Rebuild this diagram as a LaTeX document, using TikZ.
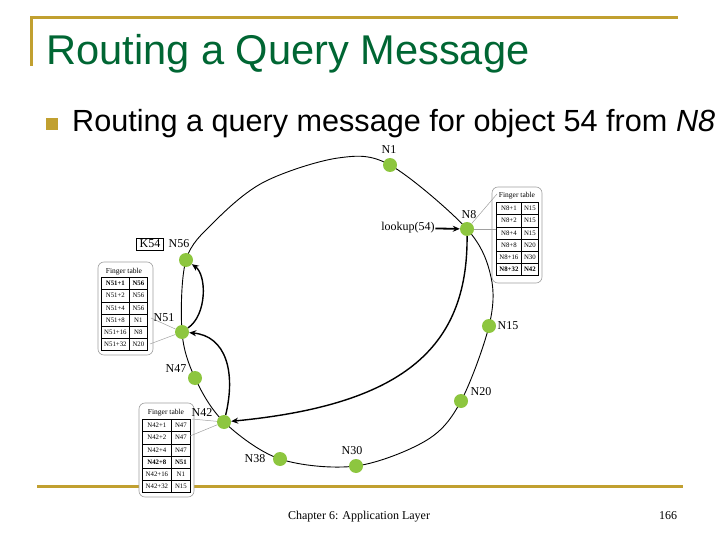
\documentclass[tikz,border=0pt]{standalone}
\usepackage{fontspec}
\setmainfont{Liberation Serif}
\newfontfamily\arialfont{Liberation Sans}
\usetikzlibrary{matrix,arrows.meta,backgrounds}
\definecolor{gold}{RGB}{193,160,48}
\definecolor{titlegreen}{RGB}{0,102,51}
\definecolor{nodegreen}{RGB}{141,198,63}
\definecolor{calloutgray}{RGB}{160,160,160}
\begin{document}
\begin{tikzpicture}[x=1pt,y=-1pt,
  peer/.style={circle,fill=nodegreen,minimum size=14pt,inner sep=0pt},
  lbl/.style={font=\fontsize{12}{12}\selectfont,inner sep=0.5pt},
  ring/.style={draw=black,line width=0.9pt},
  route/.style={draw=black,line width=1.4pt,-{Stealth[length=7pt,width=6pt]}},
  goldline/.style={draw=gold,line width=3pt},
  tabfont/.style={font=\fontsize{6.8}{6.8}\selectfont},
  ftab/.style 2 args={matrix of nodes,inner sep=0pt,
    nodes={draw=black,line width=0.4pt,tabfont,minimum height=12.2pt,inner sep=0pt,anchor=center},
    column sep=-0.4pt,row sep=-0.4pt,
    column 1/.style={nodes={minimum width=#1}},
    column 2/.style={nodes={minimum width=#2}}},
  bold/.style={font=\fontsize{6.8}{6.8}\selectfont\bfseries},
  hdr/.style={font=\fontsize{7.5}{7.5}\selectfont,inner sep=0pt},
  callout/.style={draw=calloutgray,fill=white,line width=0.6pt,rounded corners=6pt},
  pointer/.style={draw=calloutgray,line width=0.5pt}
]
\useasboundingbox (0,0) rectangle (720,540);
% frame lines
\draw[goldline] (30,18) -- (678,18);
\draw[goldline] (31,18) -- (31,66);
\draw[goldline] (37,486) -- (683,486);
% title
\node[anchor=base west,inner sep=0pt,font=\arialfont\fontsize{41.6}{41.6}\selectfont,text=titlegreen] (title) at (46,65) {Routing a Query Message};
\node[fill=gold,minimum size=12pt,inner sep=0pt] (bullet) at (52,124) {};
\node[anchor=base west,inner sep=0pt,font=\arialfont\fontsize{30.6}{30.6}\selectfont] (sub) at (72,132) {Routing a query message for object 54 from \textit{N8}};
% finger table of N8
\draw[callout] (492,187) rectangle (542,283);
\node[hdr] (h8) at (517,196) {Finger table};
\matrix (t8) [ftab={25pt}{17pt},anchor=north west] at (496,202) {
N8+1 & N15\\
N8+2 & N15\\
N8+4 & N15\\
N8+8 & N20\\
N8+16 & N30\\
|[bold]| N8+32 & |[bold]| N42\\
};
% finger table of N51
\draw[callout] (98,262) rectangle (153,355);
\node[hdr] (h51) at (124,272) {Finger table};
\matrix (t51) [ftab={28pt}{18pt},anchor=north west] at (101,277) {
|[bold]| N51+1 & |[bold]| N56\\
N51+2 & N56\\
N51+4 & N56\\
N51+8 & N1\\
N51+16 & N8\\
N51+32 & N20\\
};
% finger table of N42
\draw[callout] (139,403) rectangle (194,497);
\node[hdr] (h42) at (166,413) {Finger table};
\matrix (t42) [ftab={29pt}{19pt},anchor=north west] at (142,419) {
N42+1 & N47\\
N42+2 & N47\\
N42+4 & N47\\
|[bold]| N42+8 & |[bold]| N51\\
N42+16 & N1\\
N42+32 & N15\\
};
% peers
\node[peer] (n1) at (390,165) {};
\node[peer] (n8) at (467,229) {};
\node[peer] (n15) at (489,326) {};
\node[peer] (n20) at (461,401) {};
\node[peer] (n30) at (356,466) {};
\node[peer] (n38) at (280,459) {};
\node[peer] (n42) at (224,422) {};
\node[peer] (n47) at (195,378) {};
\node[peer] (n51) at (182,332) {};
\node[peer] (n56) at (186,260) {};
\begin{scope}[on background layer]
\draw[ring] plot[smooth cycle, tension=0.55] coordinates {(n1.center) (n8.center) (491,277) (n15.center) (n20.center) (427,440) (n30.center) (n38.center) (n42.center) (n47.center) (n51.center) (n56.center) (214,222) (264,182) (338,158)};
\end{scope}
% callout pointers
\coordinate (p8a) at (497,194);
\coordinate (p8b) at (496,229);
\draw[pointer] (p8a) -- (n8);
\draw[pointer] (p8b) -- (n8);
\coordinate (p51a) at (151,318);
\coordinate (p51b) at (150,344);
\draw[pointer] (p51a) -- (n51);
\draw[pointer] (p51b) -- (n51);
\coordinate (p42a) at (192,419);
\coordinate (p42b) at (190,436);
\draw[pointer] (p42a) -- (n42);
\draw[pointer] (p42b) -- (n42);
% labels
\node[lbl] (l1) at (389,150) {N1};
\node[lbl] (l8) at (469,215) {N8};
\node[lbl] (l15) at (508,326) {N15};
\node[lbl] (l20) at (481,392) {N20};
\node[lbl] (l30) at (352,451) {N30};
\node[lbl] (l38) at (255,459) {N38};
\node[lbl] (l42) at (202,413) {N42};
\node[lbl] (l47) at (176,369) {N47};
\node[lbl] (l51) at (164,318) {N51};
\node[lbl] (l56) at (179,244) {N56};
\node[lbl,draw=black,line width=0.6pt,inner xsep=3pt,inner ysep=2pt] (k54) at (150,244) {K54};
\node[lbl] (lk) at (408,228) {lookup(54)};
% routing arrows
\draw[route,line width=1.8pt] (lk) -- (n8);
\draw[route] (n8) .. controls (468,350) and (400,405) .. (n42);
\draw[route] (n42) .. controls (236,372) and (226,336) .. (n51);
\draw[route] (n51) .. controls (207,315) and (207,275) .. (n56);
% footer
\node[font=\fontsize{12}{12}\selectfont,inner sep=0pt] (foot) at (359,517) {Chapter 6: Application Layer};
\node[font=\fontsize{12}{12}\selectfont,inner sep=0pt] (page) at (668,516) {166};
\end{tikzpicture}
\end{document}
